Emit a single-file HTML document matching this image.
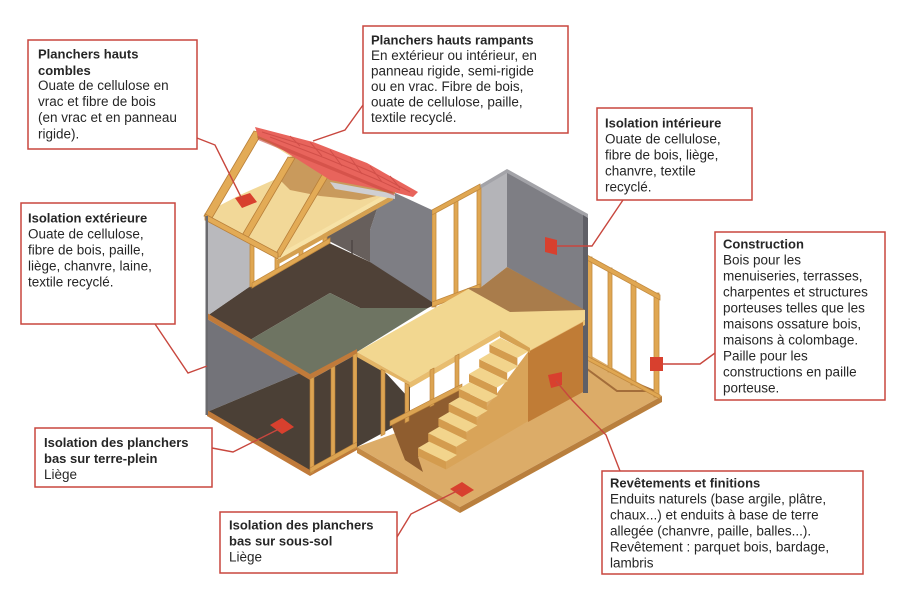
<!DOCTYPE html>
<html><head><meta charset="utf-8"><style>
html,body{margin:0;padding:0;background:#fff;}
svg{display:block}
text{font-family:"Liberation Sans",Arial,sans-serif;fill:#262626;font-size:13.5px}
text.b{font-weight:bold;font-size:13px}
</style></head><body>
<svg width="900" height="600" viewBox="0 0 900 600" xmlns="http://www.w3.org/2000/svg">
<rect width="900" height="600" fill="#fff"/>

<!-- ground slab -->
<polygon points="357,447 460,507 662,396 588,354 530,385" fill="#dcac68"/>
<polygon points="357,447 460,507 460,513 357,453" fill="#c48a45"/>
<polygon points="460,507 662,396 662,402 460,513" fill="#b97f3d"/>
<polyline points="588,358 633,382 657,392" fill="none" stroke="#a36d3a" stroke-width="2"/>
<polyline points="587,369 617,391 650,391" fill="none" stroke="#a36d3a" stroke-width="2"/>

<!-- terrace frame -->
<g fill="#e0a752" stroke="#c28a3f" stroke-width="0.8">
<polygon points="587,257 592,257 592,360 587,360"/>
<polygon points="608,268 612,268 612,372 608,372"/>
<polygon points="631,281 636,281 636,385 631,385"/>
<polygon points="654,293 659,293 659,397 654,397"/>
<polygon points="587,255 660,295 660,300 587,260"/>
<polygon points="587,356 660,395 660,399 587,360"/>
</g>

<!-- big gray wall right -->
<polygon points="480,187 507,172 507,267 480,288" fill="#b4b4b8"/>
<polygon points="507,172 587,217 587,312 507,267" fill="#7e7e84"/>
<polygon points="480,185 507,169 588,214 588,218 507,173 480,189" fill="#a3a3a8"/>
<polygon points="583,215 588,218 588,393 583,393" fill="#5f5f66"/>

<!-- upper back frame 432-480 -->
<g fill="#e0a752" stroke="#c28a3f" stroke-width="0.8">
<polygon points="432,212 436,212 436,307 432,307"/>
<polygon points="454,200 458,200 458,297 454,297"/>
<polygon points="477,188 481,188 481,288 477,288"/>
<polygon points="432,210 480,184 480,189 432,215"/>
<polygon points="432,302 480,284 480,289 432,307"/>
</g>

<!-- back-left gray walls -->
<polygon points="380,200 393,192 432,210 432,302 380,277 370,262 370,230" fill="#7e7e84"/>
<polygon points="327,232 367,197 380,200 370,230 370,262 327,240" fill="#675f5c"/>
<polyline points="352,240 352,262 360,266" fill="none" stroke="#4e4744" stroke-width="1.5"/>

<!-- upper dark floor -->
<polygon points="207,316 252,285 327,242 370,262 432,302 432,306 428,308 360,308 330,293 250,340" fill="#4f4137"/>
<!-- green floor -->
<polygon points="250,340 330,293 360,308 428,308 357,352 310,377" fill="#6e7462"/>

<!-- landing -->
<polygon points="357,352 470,288 585,310 585,320 530,350 500,330 410,382" fill="#f2d790"/>
<polygon points="467,288 480,288 507,267 585,310 510,312" fill="#a97c4b"/>
<polygon points="357,352 410,382 410,388 357,358" fill="#e3b566"/>
<polygon points="410,382 500,330 500,336 410,388" fill="#e8bd6f"/>
<polygon points="530,350 585,320 585,325 530,355" fill="#e9bf72"/>

<!-- upper left gray wall -->
<polygon points="207,218 252,243 252,285 207,316" fill="#b9b9bd"/>
<!-- front windows frame -->
<g fill="#e0a752" stroke="#c28a3f" stroke-width="0.8">
<polygon points="250,243 254,244 254,286 250,287"/>
<polygon points="275,257 279,256 279,272 275,274"/>
<polygon points="299,243 303,241 303,258 299,260"/>
<polygon points="323,230 327,228 327,244 323,246"/>
<polygon points="252,283 330,238 330,243 252,288"/>
</g>

<!-- attic -->
<polygon points="207,218 257,133 393,192 277,257" fill="#f2d898"/>
<polygon points="278,178 292,156 327,173 393,192 360,200 320,196 290,190" fill="#c99a5c"/>
<polygon points="211,210 258,136 290,156 278,178 240,195" fill="#ffffff"/>
<polygon points="277,255 393,190 393,195 277,260" fill="#f7e2a6"/>
<polygon points="277,260 393,195 393,200 277,265" fill="#d5a050"/>
<g fill="#e3ab56" stroke="#b9803a" stroke-width="0.8">
<polygon points="204,216 254,131 262,133 212,218"/>
<polygon points="241,237 288,157 295,158 248,238"/>
<polygon points="274,257 323,173 329,175 280,257"/>
<polygon points="205,214 278,253 278,259 205,220"/>
</g>
<polygon points="257,131 395,190 395,197 257,138" fill="#c48c4a"/>
<polygon points="330,182 395,194 395,199 335,189" fill="#cfcfd2"/>

<!-- roof -->
<polygon points="255,127 313,142 367,163 418,192 413,197 393,192 330,180 267,140 258,136" fill="#e8645c"/>
<g stroke="#d14f49" stroke-width="1" fill="none">
<polyline points="262,132 320,150 372,172 410,192"/>
<polyline points="270,137 325,158 378,180 400,190"/>
<polyline points="290,136 300,146"/><polyline points="310,142 322,156"/>
<polyline points="330,150 342,166"/><polyline points="350,157 362,174"/>
<polyline points="370,166 382,182"/><polyline points="390,176 400,188"/>
</g>
<polygon points="258,136 393,192 395,196 258,140" fill="#c9473f" opacity="0.6"/>

<!-- ground floor left room -->
<polygon points="207,319 300,373 207,412" fill="#737379"/>
<polygon points="207,412 300,373 310,378 310,473" fill="#4b4036"/>
<polygon points="207,313 310,374 357,349 357,354 310,380 207,319" fill="#c07a3a"/>
<polygon points="207,410 310,470 357,444 357,450 310,476 207,416" fill="#c07a3a"/>
<rect x="205.5" y="216" width="2.5" height="199" fill="#6a6a6e"/>

<!-- front stud wall 310-357 -->
<polygon points="310,380 357,354 357,447 310,473" fill="#4c4036"/>
<g fill="#dca452" stroke="#b9803a" stroke-width="0.6">
<polygon points="310,379 314,377 314,472 310,474"/>
<polygon points="331,368 335,366 335,460 331,462"/>
<polygon points="353,355 357,353 357,448 353,450"/>
<polygon points="310,468 357,442 357,447 310,473"/>
</g>

<!-- under landing wall -->
<polygon points="357,357 410,387 410,418 357,447" fill="#4a4037"/>
<polygon points="385,372 407,384 407,396" fill="#ffffff"/>
<polygon points="391,424 470,383 470,400 418,457 423,472 405,460" fill="#8f5d2f"/>
<g fill="#dca452" stroke="#b9803a" stroke-width="0.6">
<polygon points="381,369 385,371 385,434 381,436"/>
<polygon points="405,383 409,385 409,421 405,423"/>
<polygon points="430,370 434,368 434,405 430,407"/>
<polygon points="455,356 459,354 459,390 455,392"/>
<polygon points="390,421 462,384 462,389 390,426"/>
</g>

<!-- stringer & box -->
<polygon points="446,469.5 446,461.5 528.4,351.4 530,350 530,420" fill="#d9a459"/>
<polygon points="528,352 583,322 583,392 528,422" fill="#c07c36"/>
<polygon points="500,330 530,348 530,353 500,337" fill="#d6a253"/>

<!-- stairs -->
<g>
<polygon points="489.4,344.4 517.4,357.9 517.4,365.9 489.4,352.4" fill="#d49c4e"/>
<polygon points="489.4,344.4 500.4,337.9 528.4,351.4 517.4,357.9" fill="#f2d48c"/>
<polygon points="479.2,359.2 507.2,372.7 507.2,380.7 479.2,367.2" fill="#d49c4e"/>
<polygon points="479.2,359.2 490.2,352.7 518.2,366.2 507.2,372.7" fill="#f2d48c"/>
<polygon points="469,374 497,387.5 497,395.5 469,382" fill="#d49c4e"/>
<polygon points="469,374 480,367.5 508,381 497,387.5" fill="#f2d48c"/>
<polygon points="458.8,388.8 486.8,402.3 486.8,410.3 458.8,396.8" fill="#d49c4e"/>
<polygon points="458.8,388.8 469.8,382.3 497.8,395.8 486.8,402.3" fill="#f2d48c"/>
<polygon points="448.6,403.6 476.6,417.1 476.6,425.1 448.6,411.6" fill="#d49c4e"/>
<polygon points="448.6,403.6 459.6,397.1 487.6,410.6 476.6,417.1" fill="#f2d48c"/>
<polygon points="438.4,418.4 466.4,431.9 466.4,439.9 438.4,426.4" fill="#d49c4e"/>
<polygon points="438.4,418.4 449.4,411.9 477.4,425.4 466.4,431.9" fill="#f2d48c"/>
<polygon points="428.2,433.2 456.2,446.7 456.2,454.7 428.2,441.2" fill="#d49c4e"/>
<polygon points="428.2,433.2 439.2,426.7 467.2,440.2 456.2,446.7" fill="#f2d48c"/>
<polygon points="418,448 446,461.5 446,469.5 418,456" fill="#d49c4e"/>
<polygon points="418,448 429,441.5 457,455 446,461.5" fill="#f2d48c"/>
</g>

<!-- markers -->
<g fill="#d8402e">
<polygon points="235,198 250,193 257,202 242,208"/>
<polygon points="545,237 557,240 557,255 545,252"/>
<rect x="650" y="357" width="13" height="14"/>
<polygon points="548,375 562,372 562,385 551,388"/>
<polygon points="270,425 282,418 294,427 282,434"/>
<polygon points="450,489 462,482 474,490 462,497"/>
</g>

<!-- connectors -->
<g fill="none" stroke="#c8473e" stroke-width="1.4">
<polyline points="197,138 215,145 242,199"/>
<polyline points="363,105 345,130 313,141"/>
<polyline points="623,200 592,246 556,246"/>
<polyline points="715,353 700,364 662,364"/>
<polyline points="155,324 188,373 207,366"/>
<polyline points="212,448 233,452 281,428"/>
<polyline points="397,537 411,514 461,489"/>
<polyline points="620,471 606,435 572,400 556,381"/>
</g>

<!-- boxes -->
<g fill="#fff" stroke="#c9473e" stroke-width="1.5">
<rect x="28" y="40" width="169" height="109"/>
<rect x="363" y="26" width="205" height="107"/>
<rect x="597" y="108" width="155" height="92"/>
<rect x="715" y="232" width="170" height="168"/>
<rect x="21" y="203" width="154" height="121"/>
<rect x="35" y="428" width="177" height="59"/>
<rect x="220" y="512" width="177" height="61"/>
<rect x="602" y="471" width="261" height="103"/>
</g>

<text class="b" x="38" y="58.5">Planchers hauts</text>
<text class="b" x="38" y="75">combles</text>
<text x="38" y="90">Ouate de cellulose en</text>
<text x="38" y="106">vrac et fibre de bois</text>
<text x="38" y="122">(en vrac et en panneau</text>
<text x="38" y="138.5">rigide).</text>

<text class="b" x="371" y="44.5">Planchers hauts rampants</text>
<text x="371" y="60">En extérieur ou intérieur, en</text>
<text x="371" y="75.5">panneau rigide, semi-rigide</text>
<text x="371" y="91">ou en vrac. Fibre de bois,</text>
<text x="371" y="106.5">ouate de cellulose, paille,</text>
<text x="371" y="122">textile recyclé.</text>

<text class="b" x="605" y="127.5">Isolation intérieure</text>
<text x="605" y="143.5">Ouate de cellulose,</text>
<text x="605" y="159.5">fibre de bois, liège,</text>
<text x="605" y="175.5">chanvre, textile</text>
<text x="605" y="191.5">recyclé.</text>

<text class="b" x="723" y="248.5">Construction</text>
<text x="723" y="264.5">Bois pour les</text>
<text x="723" y="280.5">menuiseries, terrasses,</text>
<text x="723" y="296.5">charpentes et structures</text>
<text x="723" y="312.5">porteuses telles que les</text>
<text x="723" y="328.5">maisons ossature bois,</text>
<text x="723" y="344.5">maisons à colombage.</text>
<text x="723" y="360.5">Paille pour les</text>
<text x="723" y="376.5">constructions en paille</text>
<text x="723" y="392.5">porteuse.</text>

<text class="b" x="28" y="222.5">Isolation extérieure</text>
<text x="28" y="238.5">Ouate de cellulose,</text>
<text x="28" y="254.5">fibre de bois, paille,</text>
<text x="28" y="270.5">liège, chanvre, laine,</text>
<text x="28" y="286.5">textile recyclé.</text>

<text class="b" x="44" y="447">Isolation des planchers</text>
<text class="b" x="44" y="463">bas sur terre-plein</text>
<text x="44" y="479">Liège</text>

<text class="b" x="229" y="529.5">Isolation des planchers</text>
<text class="b" x="229" y="545.5">bas sur sous-sol</text>
<text x="229" y="561.5">Liège</text>

<text class="b" x="610" y="487.5">Revêtements et finitions</text>
<text x="610" y="503.5">Enduits naturels (base argile, plâtre,</text>
<text x="610" y="519.5">chaux...) et enduits à base de terre</text>
<text x="610" y="535.5">allegée (chanvre, paille, balles...).</text>
<text x="610" y="551.5">Revêtement : parquet bois, bardage,</text>
<text x="610" y="567.5">lambris</text>
</svg>
</body></html>
